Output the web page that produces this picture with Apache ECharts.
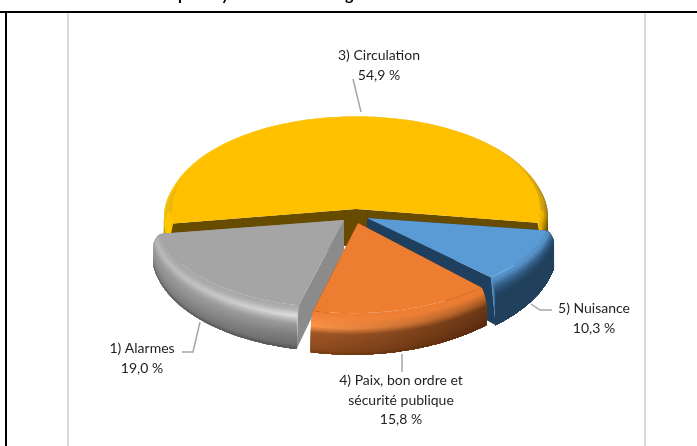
<!DOCTYPE html>
<html><head><meta charset="utf-8">
<style>html,body{margin:0;padding:0;background:#fff}#c{width:697px;height:446px}</style>
<script src="https://cdn.jsdelivr.net/npm/echarts@6/dist/echarts.min.js"></script>
</head><body><div id="c"></div>
<script>
// Data (clockwise from the start angle)
var categories = ['3) Circulation', '5) Nuisance', '4) Paix, bon ordre et\nsécurité publique', '1) Alarmes'];
var percentages = [54.9, 10.3, 15.8, 19.0];

// Layout
var startAngle = 261;
var drawOrder = [0, 1, 3, 2];
var centersX = [356, 367, 358, 344];
var centersY = [209, 218, 223, 220];
var radiiX = [192, 190, 190, 192];
var radiiY = [96, 92, 98, 94];
var depths = [36, 35, 27, 30];
var bevelsY = [0.04, 0.10, 0.08, 0.07];
var bevelX = 0.04;
var shear = -0.06;
var perspective = 0.25;
var rimDrop = 8;
var topColors = ['#ffc000', '#5b9bd5', '#ed7d31', '#a5a5a5'];
var faceColors = ['#674c00', '#1f3f5f', '#5f3010', '#8b8b8b'];
// Shading: [position from top edge (0) to bottom edge (1), colour at left, colour at right]
var shades = [
  [[0, '#ffc000', '#ffc000'], [0.25, '#ffcc00', '#e0aa00'], [0.5, '#f5c400', '#8a6800'], [0.6, '#b08600', '#6a4f00'], [1, '#8a6800', '#5f4700']],
  [[0, '#5b9bd5', '#5b9bd5'], [0.2, '#4f89bd', '#4f89bd'], [0.42, '#2c5378', '#2c5378'], [0.55, '#21405c', '#21405c'], [1, '#21405c', '#21405c']],
  [[0, '#ed7d31', '#ed7d31'], [0.25, '#f4873c', '#e77a30'], [0.45, '#fb9347', '#a85a24'], [0.58, '#9f5626', '#6c3815'], [0.93, '#8e4a1d', '#5b2d0f'], [1, '#73390f', '#552a0d']],
  [[0, '#a5a5a5', '#a5a5a5'], [0.2, '#aaaaaa', '#b0b0b0'], [0.38, '#b8b8b8', '#dcdcdc'], [0.55, '#9c9c9c', '#9a9a9a'], [0.75, '#909090', '#7c7c7c'], [0.93, '#7c7c7c', '#6c6c6c'], [1, '#5a5a5a', '#505050']]
];
var labelX = [379, 594, 401, 142];
var labelY = [56, 309, 381, 349];
var leaders = [
  [[353, 79], [361, 112]],
  [[531, 304], [540, 310], [552, 310]],
  [[402, 354], [402, 372]],
  [[200, 322], [193, 352], [182, 352]]
];
var titleFragments = [['p', 178], ['y', 221], ['g', 345]];
var ringCount = 30;

var starts = [], sum = startAngle;
percentages.forEach(function (p) { starts.push(sum); sum += p * 3.6; });

function hex(c) { return [parseInt(c.substr(1, 2), 16), parseInt(c.substr(3, 2), 16), parseInt(c.substr(5, 2), 16)]; }
function mix(a, b, f) {
  var x = hex(a), y = hex(b);
  return 'rgb(' + [0, 1, 2].map(function (k) { return Math.round(x[k] + (y[k] - x[k]) * f); }).join(',') + ')';
}
function shadeAt(list, u) {
  for (var k = 1; k < list.length; k++) {
    if (u <= list[k][0]) {
      var f = (u - list[k - 1][0]) / (list[k][0] - list[k - 1][0]);
      return [mix(list[k - 1][1], list[k][1], f), mix(list[k - 1][2], list[k][2], f)];
    }
  }
  var l = list[list.length - 1];
  return [l[1], l[2]];
}

function renderSlice(params, api) {
  var value = api.value(0), i = api.value(1);
  var cx = centersX[i], cy = centersY[i], rx = radiiX[i], ry = radiiY[i], D = depths[i], by = bevelsY[i];
  var a0 = starts[i], a1 = a0 + value * 3.6;
  function prof(u) {
    if (u < 0.5) {
      var q = u / 0.5;
      return [1 - bevelX * (1 - q), 1 - by * (1 - q), rimDrop * q * q];
    }
    return [1, 1, rimDrop + (D - rimDrop) * (u - 0.5) / 0.5];
  }
  function pt(deg, p) {
    var t = deg * Math.PI / 180, c = Math.cos(t);
    var yr = -ry * p[1] * c;
    var persp = 1 + perspective * Math.max(0, -c);
    return [cx + rx * p[0] * Math.sin(t) + shear * Math.max(0, yr), cy + yr + p[2] * persp];
  }
  function arc(p, from, to) {
    var out = [], n = Math.max(1, Math.ceil((to - from) / 1.5));
    for (var k = 0; k <= n; k++) out.push(pt(from + (to - from) * k / n, p));
    return out;
  }
  var outer = arc(prof(1), a0, a1), minX = Infinity, maxX = -Infinity;
  outer.forEach(function (p) { minX = Math.min(minX, p[0]); maxX = Math.max(maxX, p[0]); });
  function fill(pair) {
    return { type: 'linear', global: true, x: minX, y: 0, x2: maxX, y2: 0, colorStops: [{ offset: 0, color: pair[0] }, { offset: 1, color: pair[1] }] };
  }
  var kids = [];
  [a0, a1].forEach(function (ang) {
    var pts = [[cx, cy]];
    for (var k = 0; k <= 10; k++) pts.push(pt(ang, prof(k / 10)));
    pts.push([cx, cy + D]);
    kids.push({ type: 'polygon', shape: { points: pts }, style: { fill: faceColors[i] } });
  });
  // Rear of the rim, bottom band first, so the upper bands stay on top
  var r;
  for (var w = 0; w < 2 && (a1 - a0) > 180; w = 2) {
    for (r = ringCount - 1; r >= 0; r--) {
      kids.push({
        type: 'polygon',
        shape: { points: arc(prof(r / ringCount), a0, a1).concat(arc(prof((r + 1) / ringCount), a0, a1).reverse()) },
        style: { fill: fill(shadeAt(shades[i], (r + 0.5) / ringCount)) }
      });
    }
  }
  // Front of the rim and side: each layer runs to the bottom edge, so no seams show
  var ranges = [];
  [[90, 270], [450, 630]].forEach(function (b) {
    var f = Math.max(a0, b[0]), t = Math.min(a1, b[1]);
    if (t > f) ranges.push([f, t]);
  });
  ranges.forEach(function (g) {
    var bottom = arc(prof(1), g[0], g[1]).reverse();
    for (r = 0; r < ringCount; r++) {
      kids.push({
        type: 'polygon',
        shape: { points: arc(prof(r / ringCount), g[0], g[1]).concat(bottom) },
        style: { fill: fill(shadeAt(shades[i], (r + 0.5) / ringCount)) }
      });
    }
  });
  kids.push({
    type: 'polygon',
    shape: { points: [[cx, cy]].concat(arc(prof(0), a0, a1)) },
    style: { fill: topColors[i] }
  });
  return { type: 'group', children: kids };
}

function renderLabel(params, api) {
  var value = api.value(0), i = api.value(1);
  var text = categories[i] + '\n' + value.toFixed(1).replace('.', ',') + ' %';
  return {
    type: 'group',
    children: [
      { type: 'polyline', shape: { points: leaders[i] }, style: { fill: null, stroke: '#a6a6a6', lineWidth: 1.5 } },
      { type: 'text', x: labelX[i], y: labelY[i] - 10, style: { text: text, fill: '#1f1f1f', font: '14px Lato', align: 'center', verticalAlign: 'top', lineHeight: 19.5 } }
    ]
  };
}

var rows = drawOrder.map(function (i) { return [percentages[i], i]; });
var chart = echarts.init(document.getElementById('c'), null, { renderer: 'canvas' });
chart.setOption({
  animation: false,
  backgroundColor: '#ffffff',
  graphic: [
    { type: 'line', shape: { x1: 68, y1: 13, x2: 68, y2: 446 }, style: { stroke: '#d9d9d9', lineWidth: 2 } },
    { type: 'line', shape: { x1: 645, y1: 13, x2: 645, y2: 446 }, style: { stroke: '#d9d9d9', lineWidth: 2 } },
    { type: 'line', shape: { x1: 0, y1: 12, x2: 697, y2: 12 }, style: { stroke: '#000000', lineWidth: 2 } },
    { type: 'line', shape: { x1: 6, y1: 12, x2: 6, y2: 446 }, style: { stroke: '#000000', lineWidth: 2 } }
  ].concat(titleFragments.map(function (f) {
    return { type: 'text', x: f[1], y: -5, style: { text: f[0], fill: '#000', font: 'bold 16px Lato', verticalAlign: 'middle' } };
  })),
  series: [
    { type: 'custom', coordinateSystem: 'none', renderItem: renderSlice, data: rows, silent: true, z: 2 },
    { type: 'custom', coordinateSystem: 'none', renderItem: renderLabel, data: rows, silent: true, z: 3 }
  ]
});
</script></body></html>
